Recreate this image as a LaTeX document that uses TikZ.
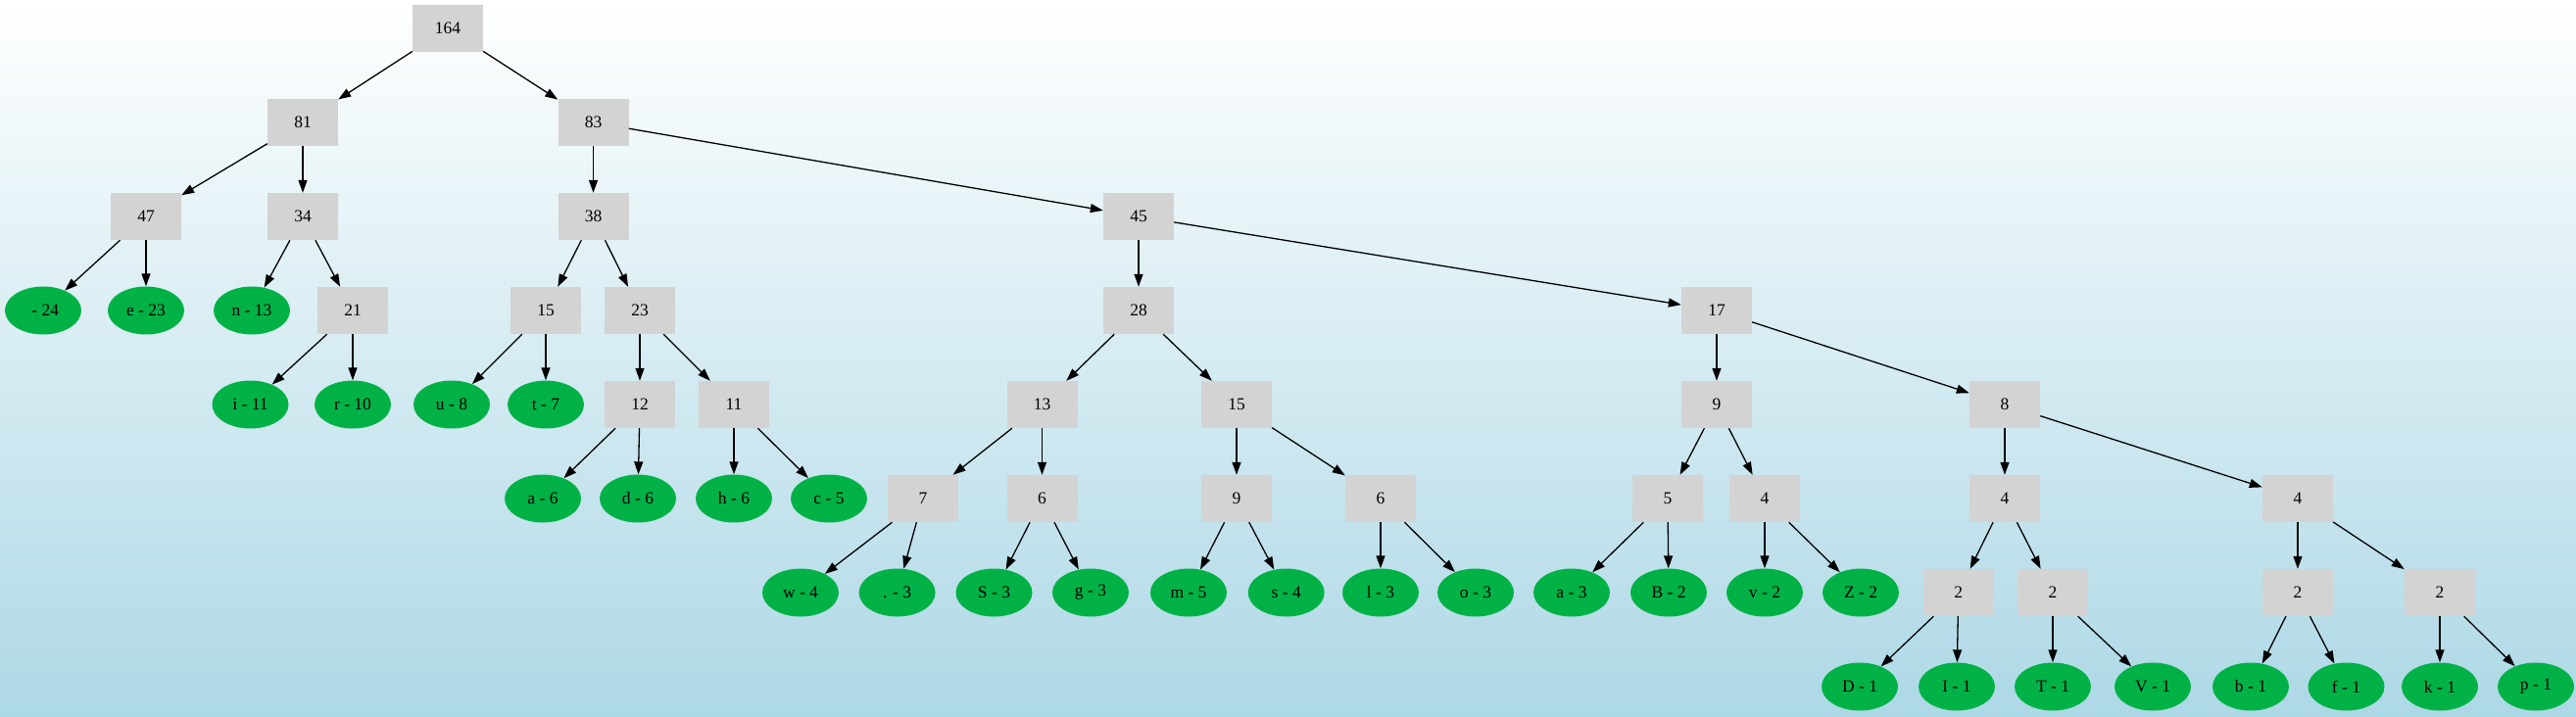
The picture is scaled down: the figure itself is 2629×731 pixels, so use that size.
\documentclass[tikz,border=0pt]{standalone}
\usepackage{fontspec}
\setmainfont{Liberation Serif}
\usetikzlibrary{shapes.geometric,arrows.meta}
\definecolor{bgblue}{RGB}{173,216,230}
\definecolor{boxgray}{RGB}{211,211,211}
\definecolor{leafgreen}{RGB}{0,178,70}
\begin{document}
\begin{tikzpicture}[x=1pt,y=-1pt,
  every node/.style={font=\fontsize{17.5}{20}\selectfont},
  inner/.style={rectangle,fill=boxgray,minimum width=72pt,minimum height=48pt,inner sep=0pt},
  leaf/.style={ellipse,fill=leafgreen,minimum width=78pt,minimum height=49pt,inner sep=0pt},
  edge/.style={line width=1.3pt,-{Triangle[length=13pt,width=9pt]}}]
\shade[top color=white,bottom color=bgblue] (0,0) rectangle (2629,731);
\useasboundingbox (0,0) rectangle (2629,731);
% level 0
\node[inner] (n164) at (457,29) {164};
% level 1
\node[inner] (n81) at (309,125) {81};
\node[inner] (n83) at (605.5,125) {83};
% level 2
\node[inner] (n47) at (149,221) {47};
\node[inner] (n34) at (309,221) {34};
\node[inner] (n38) at (605.5,221) {38};
\node[inner] (n45) at (1162,221) {45};
% level 3
\node[leaf] (lsp) at (44,317) {\ - 24};
\node[leaf] (le) at (149,317) {e - 23};
\node[leaf] (ln) at (257,317) {n - 13};
\node[inner] (n21) at (360,317) {21};
\node[inner] (n15a) at (557,317) {15};
\node[inner] (n23) at (653,317) {23};
\node[inner] (n28) at (1162,317) {28};
\node[inner] (n17) at (1752,317) {17};
% level 4
\node[leaf] (li) at (255.5,413) {i - 11};
\node[leaf] (lr) at (360,413) {r - 10};
\node[leaf] (lu) at (461,413) {u - 8};
\node[leaf] (lt) at (557,413) {t - 7};
\node[inner] (n12) at (653,413) {12};
\node[inner] (n11) at (749,413) {11};
\node[inner] (n13) at (1063.5,413) {13};
\node[inner] (n15b) at (1262,413) {15};
\node[inner] (n9a) at (1752,413) {9};
\node[inner] (n8) at (2046,413) {8};
% level 5
\node[leaf] (la6) at (554,509) {a - 6};
\node[leaf] (ld) at (651,509) {d - 6};
\node[leaf] (lh) at (749,509) {h - 6};
\node[leaf] (lc) at (846,509) {c - 5};
\node[inner] (n7) at (942,509) {7};
\node[inner] (n6a) at (1063.5,509) {6};
\node[inner] (n9b) at (1262,509) {9};
\node[inner] (n6b) at (1409,509) {6};
\node[inner] (n5) at (1702,509) {5};
\node[inner] (n4a) at (1801,509) {4};
\node[inner] (n4b) at (2046,509) {4};
\node[inner] (n4c) at (2345,509) {4};
% level 6
\node[leaf] (lw) at (817,605) {w - 4};
\node[leaf] (ldot) at (915.6,605) {. - 3};
\node[leaf] (lS) at (1014.5,605) {S - 3};
\node[leaf] (lg) at (1113,605) {g - 3};
\node[leaf] (lm) at (1213,605) {m - 5};
\node[leaf] (ls) at (1312.7,605) {s - 4};
\node[leaf] (ll) at (1409,605) {l - 3};
\node[leaf] (lo) at (1506,605) {o - 3};
\node[leaf] (la3) at (1604,605) {a - 3};
\node[leaf] (lB) at (1703,605) {B - 2};
\node[leaf] (lv) at (1801,605) {v - 2};
\node[leaf] (lZ) at (1899,605) {Z - 2};
\node[inner] (n2a) at (1998.7,605) {2};
\node[inner] (n2b) at (2095,605) {2};
\node[inner] (n2c) at (2345,605) {2};
\node[inner] (n2d) at (2490,605) {2};
% level 7
\node[leaf] (lD) at (1898,701) {D - 1};
\node[leaf] (lI) at (1997,701) {I - 1};
\node[leaf] (lT) at (2095,701) {T - 1};
\node[leaf] (lV) at (2197,701) {V - 1};
\node[leaf] (lb) at (2297,701) {b - 1};
\node[leaf] (lf) at (2394.5,701) {f - 1};
\node[leaf] (lk) at (2490,701) {k - 1};
\node[leaf] (lp) at (2588,701) {p - 1};
% edges
\foreach \a/\b in {n164/n81,n164/n83,n81/n47,n81/n34,n83/n38,n83/n45,
  n47/lsp,n47/le,n34/ln,n34/n21,n38/n15a,n38/n23,n45/n28,n45/n17,
  n21/li,n21/lr,n15a/lu,n15a/lt,n23/n12,n23/n11,n28/n13,n28/n15b,n17/n9a,n17/n8,
  n12/la6,n12/ld,n11/lh,n11/lc,n13/n7,n13/n6a,n15b/n9b,n15b/n6b,n9a/n5,n9a/n4a,n8/n4b,n8/n4c,
  n7/lw,n7/ldot,n6a/lS,n6a/lg,n9b/lm,n9b/ls,n6b/ll,n6b/lo,n5/la3,n5/lB,n4a/lv,n4a/lZ,
  n4b/n2a,n4b/n2b,n4c/n2c,n4c/n2d,
  n2a/lD,n2a/lI,n2b/lT,n2b/lV,n2c/lb,n2c/lf,n2d/lk,n2d/lp}
  \draw[edge] (\a) -- (\b);
\end{tikzpicture}
\end{document}
